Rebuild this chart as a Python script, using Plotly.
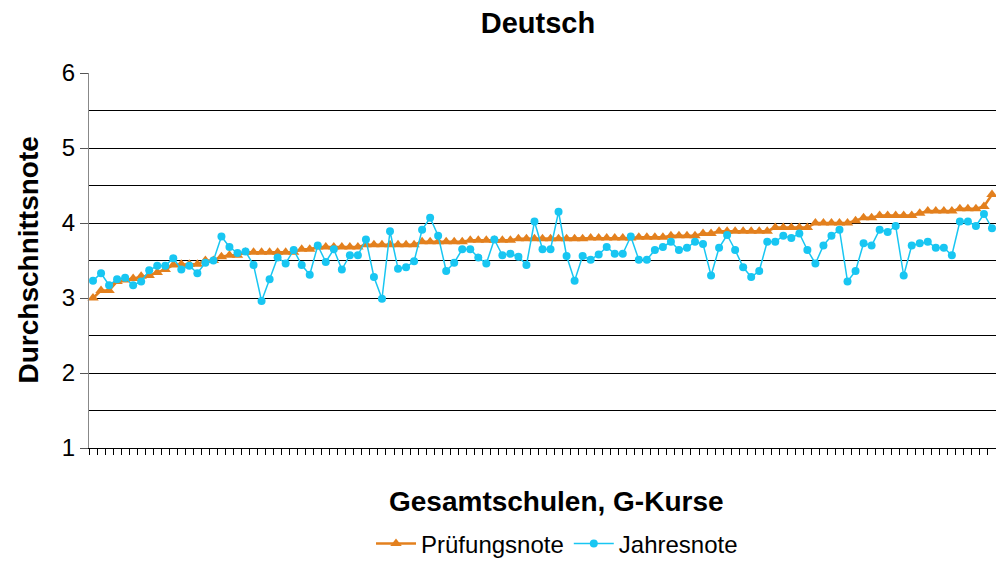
import plotly.graph_objects as go

pruefung = [3.0, 3.1, 3.1, 3.22, 3.24, 3.26, 3.29, 3.3, 3.34, 3.38, 3.44, 3.45, 3.45, 3.45, 3.5, 3.5, 3.55, 3.57, 3.57,
            3.61, 3.61, 3.61, 3.61, 3.61, 3.61, 3.61, 3.65, 3.65, 3.68, 3.68, 3.68, 3.68, 3.68, 3.68,
            3.71, 3.71, 3.71, 3.71, 3.71, 3.71, 3.71, 3.75, 3.75, 3.75, 3.75, 3.75, 3.75,
            3.77, 3.77, 3.77, 3.77, 3.77, 3.77, 3.79, 3.79, 3.79, 3.79, 3.79, 3.79, 3.79, 3.79, 3.79,
            3.8, 3.8, 3.8, 3.8, 3.8, 3.8, 3.81, 3.81, 3.81, 3.81, 3.83, 3.83, 3.83, 3.83,
            3.86, 3.86, 3.89, 3.89, 3.89, 3.89, 3.89, 3.89, 3.89, 3.94, 3.94, 3.94, 3.94, 3.94,
            4.0, 4.0, 4.0, 4.0, 4.0, 4.03, 4.07, 4.07, 4.1, 4.1, 4.1, 4.1, 4.1, 4.13,
            4.16, 4.16, 4.16, 4.16, 4.19, 4.19, 4.19, 4.22, 4.38]

jahres = [3.23, 3.33, 3.17, 3.25, 3.27, 3.17, 3.22, 3.37, 3.43, 3.43, 3.53, 3.38, 3.43, 3.33, 3.47, 3.5, 3.82, 3.68, 3.6,
          3.62, 3.44, 2.96, 3.25, 3.54, 3.46, 3.64, 3.44, 3.31, 3.70, 3.48, 3.65, 3.38, 3.57, 3.57, 3.78, 3.28, 2.99, 3.89,
          3.39, 3.41, 3.49, 3.91, 4.07, 3.83, 3.36, 3.47, 3.65, 3.65, 3.54, 3.46, 3.78, 3.57, 3.59, 3.55, 3.44, 4.02, 3.65,
          3.65, 4.15, 3.56, 3.23, 3.56, 3.51, 3.58, 3.68, 3.59, 3.59, 3.82, 3.51, 3.51, 3.64, 3.68, 3.75, 3.64, 3.67, 3.75,
          3.72, 3.30, 3.67, 3.84, 3.64, 3.41, 3.28, 3.36, 3.75, 3.75, 3.83, 3.80, 3.86, 3.64, 3.46, 3.70, 3.83, 3.91, 3.22, 3.36,
          3.73, 3.70, 3.91, 3.88, 3.96, 3.30, 3.70, 3.73, 3.75, 3.67, 3.67, 3.57, 4.02, 4.02, 3.96, 4.12, 3.93]

x = list(range(len(jahres)))

ORANGE = "#E3801E"
CYAN = "#18C6F2"
FONT = "Liberation Sans, Arial, sans-serif"

fig = go.Figure()
fig.add_trace(go.Scatter(x=x, y=pruefung, name="Prüfungsnote", mode="lines+markers",
                         line=dict(color=ORANGE, width=2.5), cliponaxis=False,
                         marker=dict(symbol="triangle-up", size=10, color=ORANGE)))
fig.add_trace(go.Scatter(x=x, y=jahres, name="Jahresnote", mode="lines+markers",
                         line=dict(color=CYAN, width=1.5), cliponaxis=False,
                         marker=dict(symbol="circle", size=8, color=CYAN)))

# page body has an 8px default margin, so the figure is sized to fit inside the window
W, H = 988, 551
fig.update_layout(
    width=W, height=H,
    margin=dict(l=81, r=0, t=65, b=111, autoexpand=False),
    paper_bgcolor="white", plot_bgcolor="white",
    font=dict(family=FONT, color="black"),
    title=dict(text="<b>Deutsch</b>", x=0.5364, xanchor="center", y=1 - 15 / H, yanchor="middle",
               font=dict(size=29, family=FONT, color="black")),
    showlegend=True,
    legend=dict(orientation="h", x=0.516, xanchor="center", y=-0.256, yanchor="middle",
                font=dict(size=24, family=FONT), itemwidth=40, traceorder="normal"),
    xaxis=dict(range=[-0.5, len(jahres) - 0.5], showgrid=False, zeroline=False,
               showticklabels=False, ticks="outside", ticklen=6, tickcolor="black",
               tick0=-0.5, dtick=1, showline=True, linecolor="black", linewidth=1),
    yaxis=dict(range=[1, 6], tickvals=[1, 2, 3, 4, 5, 6], ticks="outside", ticklen=8,
               tickcolor="#555", tickfont=dict(size=24, family=FONT),
               showgrid=True, gridcolor="black", gridwidth=1, zeroline=False,
               showline=True, linecolor="#888", linewidth=1,
               minor=dict(dtick=0.5, tick0=1, showgrid=True, gridcolor="black", gridwidth=1, ticks="")),
    annotations=[
        dict(text="<b>Gesamtschulen, G-Kurse</b>", xref="paper", yref="paper", x=0.515, y=0,
             yshift=-53, xanchor="center", yanchor="middle", showarrow=False,
             font=dict(size=28, family=FONT)),
        dict(text="<b>Durchschnittsnote</b>", xref="paper", yref="paper", x=0, y=0.5,
             xshift=-61, xanchor="center", yanchor="middle", textangle=-90, showarrow=False,
             font=dict(size=28, family=FONT)),
    ],
)

fig.write_html("out.html")
